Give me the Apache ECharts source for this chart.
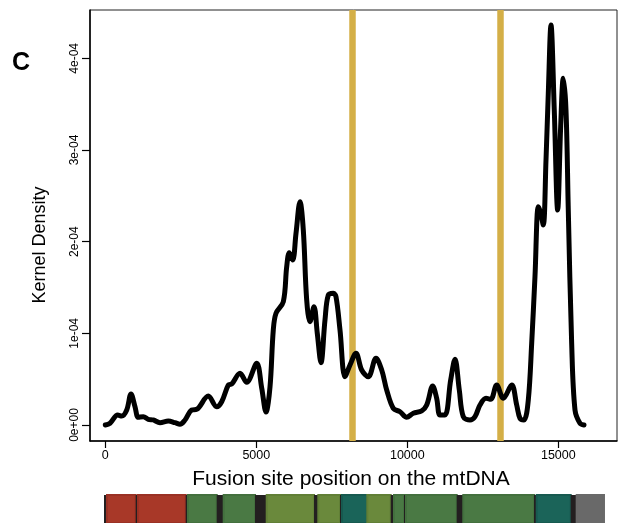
<!DOCTYPE html>
<html><head><meta charset="utf-8">
<script src="https://cdn.jsdelivr.net/npm/echarts@6/dist/echarts.min.js"></script>
<style>html,body{margin:0;padding:0;background:#fff}#c{width:618px;height:523px}</style>
</head><body><div id="c"></div>
<script>
// Fusion site position (bp) and kernel density (in units of 1e-04)
const positions = [0,156,411,543,709,851,983,1093,1258,1424,1589,1811,2086,2308,2473,2639,2861,3026,3410,3688,3854,4073,4185,4460,4682,5013,5178,5321,5453,5562,5652,5894,6006,6092,6205,6314,6447,6556,6668,6778,6910,7019,7142,7274,7384,7549,7638,7771,7937,8102,8301,8489,8708,8963,9152,9317,9536,9758,9979,10198,10476,10642,10840,10973,11082,11247,11436,11579,11721,11853,12075,12241,12406,12605,12761,12959,13178,13456,13622,13731,13863,14006,14118,14227,14337,14410,14502,14592,14668,14757,14866,14979,15078,15164,15254,15330,15442,15552,15717,15850];
const density = [0,0.019,0.109,0.098,0.164,0.338,0.200,0.084,0.091,0.062,0.055,0.025,0.044,0.025,0.008,0.055,0.164,0.171,0.316,0.200,0.254,0.436,0.447,0.564,0.466,0.673,0.404,0.142,0.415,1.036,1.219,1.345,1.727,1.880,1.800,2.091,2.436,2.127,1.364,1.127,1.291,1.000,0.680,1.145,1.418,1.437,1.400,1.036,0.527,0.655,0.782,0.600,0.527,0.728,0.600,0.382,0.182,0.145,0.084,0.128,0.153,0.218,0.425,0.291,0.109,0.109,0.491,0.717,0.382,0.091,0.055,0.091,0.218,0.291,0.280,0.436,0.291,0.436,0.218,0.073,0.055,0.273,0.891,1.618,2.381,2.320,2.182,2.891,3.618,4.364,3.436,2.345,3.254,3.782,3.436,2.345,0.891,0.164,0.019,0];
const highlightSites = [8191, 13092];
const xTicks = [0, 5000, 10000, 15000];
const yTicks = [0, 1, 2, 3, 4];
const yTickLabels = ['0e+00', '1e-04', '2e-04', '3e-04', '4e-04'];
// mtDNA gene map segments (bp)
const segStart = [-43, 56, 1007, 1083, 2662, 2738, 3689, 3920, 4957, 5344, 6910, 7052, 7771, 7837, 8675, 9450, 9559, 9890, 9956, 11635, 11853, 14194, 14284, 15410, 15608];
const segEnd   = [56, 1007, 1083, 2662, 2738, 3689, 3920, 4957, 5344, 6910, 7052, 7771, 7837, 8675, 9450, 9559, 9890, 9956, 11635, 11853, 14194, 14284, 15410, 15608, 16512];
const segType  = ['gap','rRNA','gap','rRNA','gap','ND','gap','ND','gap','COX','gap','COX','gap','ATP','COX','gap','ND','gap','ND','gap','ND','gap','CYTB','gap','Dloop'];

const typeColor = {gap:'#231F20', rRNA:'#A83828', ND:'#4A7944', COX:'#6A893C', ATP:'#1A6459', CYTB:'#1B6459', Dloop:'#696969'};
const typeBorder = {gap:'#231F20', rRNA:'#9A3124', ND:'#43703E', COX:'#617F36', ATP:'#175a50', CYTB:'#175a50', Dloop:'#696969'};

const X_MIN = -507, X_MAX = 16943, Y_MIN = -0.1745, Y_MAX = 4.527;
const font = 'Liberation Sans, Arial, Helvetica, sans-serif';

const chart = echarts.init(document.getElementById('c'), null, {renderer: 'canvas'});
chart.setOption({
  animation: false,
  backgroundColor: '#fff',
  grid: [
    {left: 90, top: 10, width: 527, height: 431, show: true, borderColor: '#222', borderWidth: 1, backgroundColor: 'transparent'},
    {left: 90, top: 495, width: 527, height: 28, show: false}
  ],
  xAxis: [
    {type: 'value', gridIndex: 0, min: X_MIN, max: X_MAX,
      axisLine: {show: true, onZero: false, lineStyle: {color: '#000', width: 1.5}},
      axisTick: {show: true, length: 7, customValues: xTicks, lineStyle: {color: '#000', width: 1.2}},
      axisLabel: {show: true, customValues: xTicks, margin: 8, color: '#000', fontSize: 12.5, fontFamily: font, formatter: v => String(v)},
      splitLine: {show: false}},
    {type: 'value', gridIndex: 1, min: X_MIN, max: X_MAX, show: false}
  ],
  yAxis: [
    {type: 'value', gridIndex: 0, min: Y_MIN, max: Y_MAX,
      axisLine: {show: true, onZero: false, lineStyle: {color: '#000', width: 1.5}},
      axisTick: {show: true, length: 8, customValues: yTicks, lineStyle: {color: '#000', width: 1.2}},
      axisLabel: {show: true, customValues: yTicks, rotate: 90, margin: 9, color: '#000', fontSize: 12, fontFamily: font,
        formatter: v => yTickLabels[yTicks.indexOf(Math.round(v))]},
      splitLine: {show: false}},
    {type: 'value', gridIndex: 1, min: 0, max: 1, show: false}
  ],
  graphic: [
    {type: 'text', left: 12, top: 51, style: {text: 'C', font: 'bold 25px ' + font, fill: '#000'}},
    {type: 'text', x: 40, y: 245, rotation: Math.PI / 2,
      style: {text: 'Kernel Density', font: '18px ' + font, fill: '#000', align: 'center', verticalAlign: 'middle'}},
    {type: 'text', x: 351, y: 479,
      style: {text: 'Fusion site position on the mtDNA', font: '21px ' + font, fill: '#000', align: 'center', verticalAlign: 'middle'}}
  ],
  series: [
    {type: 'line', xAxisIndex: 0, yAxisIndex: 0, data: [], z: 1, silent: true,
      markLine: {silent: true, z: 1, symbol: ['none', 'none'], label: {show: false},
        lineStyle: {color: '#D4AF47', width: 6.5, type: 'solid'},
        emphasis: {disabled: true},
        data: highlightSites.map(s => ({xAxis: s}))}},
    {type: 'line', xAxisIndex: 0, yAxisIndex: 0, z: 3,
      data: positions.map((p, i) => [p, density[i]]),
      smooth: 0.35, showSymbol: false, symbol: 'none',
      lineStyle: {color: '#000', width: 5, cap: 'round', join: 'round'}},
    {type: 'custom', xAxisIndex: 1, yAxisIndex: 1,
      data: segStart.map((s, i) => [s, segEnd[i], i]),
      renderItem: (params, api) => {
        const i = api.value(2);
        const a = api.coord([api.value(0), 1]);
        const b = api.coord([api.value(1), 0]);
        const t = segType[i];
        return {type: 'rect', shape: {x: a[0], y: a[1], width: b[0] - a[0], height: b[1] - a[1]},
          style: {fill: typeColor[t], stroke: typeBorder[t], lineWidth: t === 'gap' ? 0 : 2}};
      }}
  ]
});
</script></body></html>
